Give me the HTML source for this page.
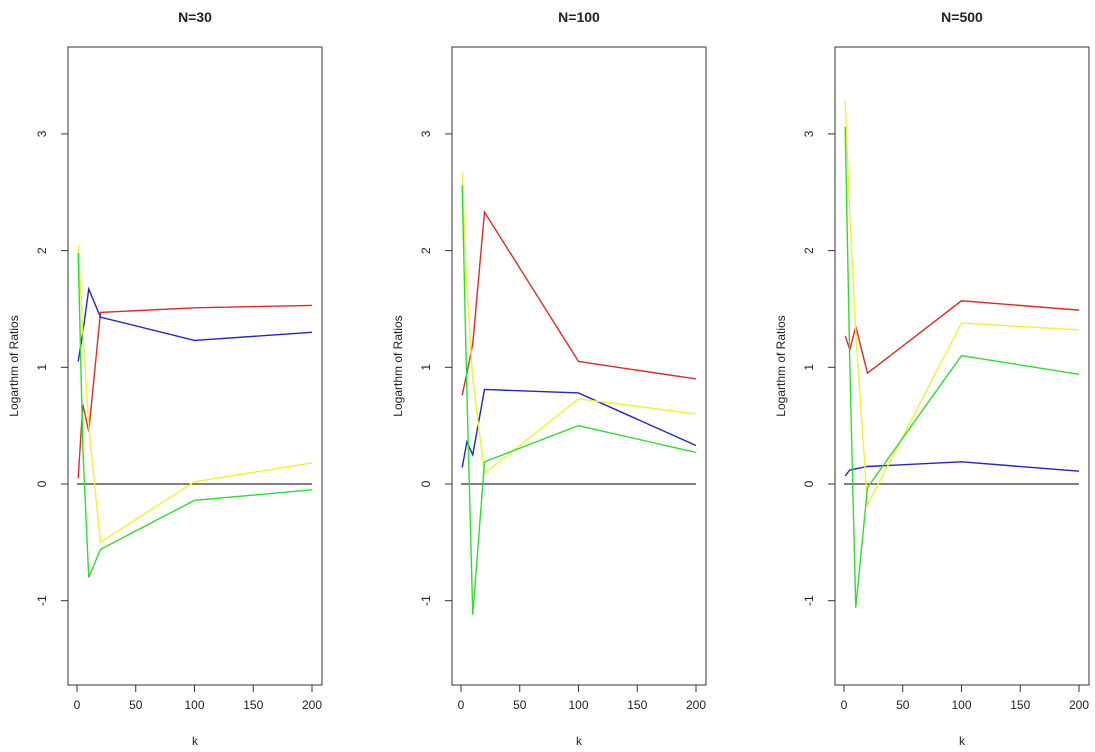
<!DOCTYPE html>
<html><head><meta charset="utf-8"><style>
body{margin:0;background:#fff;}
svg text{font-family:"Liberation Sans",sans-serif;fill:#222;}
</style></head><body>
<svg id="chart" width="1095" height="747" xmlns="http://www.w3.org/2000/svg"></svg>
<script>
const kValues = [1, 5, 10, 20, 100, 200];
const panelTitles = ["N=30", "N=100", "N=500"];
const xTicks = [0, 50, 100, 150, 200];
const yTicks = [-1, 0, 1, 2, 3];
const seriesColors = ["#dd2b2b", "#2424cc", "#f2f230", "#2ede2e"];
const seriesNames = ["red", "blue", "yellow", "green"];
const p1Red = [0.05, 0.68, 0.45, 1.47, 1.51, 1.53];
const p1Blue = [1.05, 1.3, 1.67, 1.43, 1.23, 1.30];
const p1Yellow = [2.05, 1.3, 0.5, -0.5, 0.02, 0.18];
const p1Green = [1.98, 0.3, -0.8, -0.56, -0.14, -0.05];
const p2Red = [0.76, 0.95, 1.2, 2.33, 1.05, 0.9];
const p2Blue = [0.14, 0.36, 0.25, 0.81, 0.78, 0.33];
const p2Yellow = [2.67, 1.7, 0.9, 0.09, 0.73, 0.6];
const p2Green = [2.56, 0.8, -1.12, 0.19, 0.5, 0.27];
const p3Red = [1.27, 1.15, 1.35, 0.95, 1.57, 1.49];
const p3Blue = [0.07, 0.12, 0.13, 0.15, 0.19, 0.11];
const p3Yellow = [3.29, 2.3, 1.3, -0.18, 1.38, 1.32];
const p3Green = [3.06, 1.0, -1.06, -0.03, 1.1, 0.94];
const panels = [[p1Red,p1Blue,p1Yellow,p1Green],[p2Red,p2Blue,p2Yellow,p2Green],[p3Red,p3Blue,p3Yellow,p3Green]];

const svg = document.getElementById('chart');
const NS = "http://www.w3.org/2000/svg";
function mk(tag, attrs, parent){const e=document.createElementNS(NS,tag);for(const k in attrs)e.setAttribute(k,attrs[k]);parent.appendChild(e);return e;}
const offsets=[0,384,767];
const plotTop=47,plotBottom=685;
const yScale=v=>484-v*116.7;
panels.forEach((series,pi)=>{
  const ox=offsets[pi];
  const xScale=k=>ox+77+k*1.175;
  const g=mk('g',{},svg);
  
  
  const box=mk('rect',{x:ox+68,y:plotTop,width:254,height:plotBottom-plotTop,fill:'none',stroke:'#333','stroke-width':1},g);
  
  
  const t=mk('text',{x:ox+195,y:22,'text-anchor':'middle','font-size':14,'font-weight':'bold'},g);
  t.textContent=panelTitles[pi];
  
  
  xTicks.forEach(v=>{
    const x=xScale(v);
    mk('line',{x1:x,x2:x,y1:plotBottom,y2:plotBottom+7,stroke:'#333'},g);
    const tl=mk('text',{x:x,y:plotBottom+24,'text-anchor':'middle','font-size':12},g);
    tl.textContent=v;
    
    
  });
  yTicks.forEach(v=>{
    const y=yScale(v);
    mk('line',{x1:ox+61,x2:ox+68,y1:y,y2:y,stroke:'#333'},g);
    const tl=mk('text',{x:ox+46,y:y,'text-anchor':'middle','font-size':12,transform:`rotate(-90 ${ox+46} ${y})`},g);
    tl.textContent=v;
    
    
  });
  const xt=mk('text',{x:ox+195,y:745,'text-anchor':'middle','font-size':12},g);
  xt.textContent='k';
  
  
  const yt=mk('text',{x:ox+18,y:366,'text-anchor':'middle','font-size':12,transform:`rotate(-90 ${ox+18} 366)`},g);
  yt.textContent='Logarthm of Ratios';
  
  
  const zl=mk('line',{x1:xScale(0),x2:xScale(200),y1:yScale(0),y2:yScale(0),stroke:'#000'},g);
  
  
  series.forEach((vals,si)=>{
    const pts=vals.map((v,i)=>xScale(kValues[i])+','+yScale(v)).join(' ');
    const pl=mk('polyline',{points:pts,fill:'none',stroke:seriesColors[si],'stroke-width':1.4},g);
    
    
  });
});
</script>
</body></html>
